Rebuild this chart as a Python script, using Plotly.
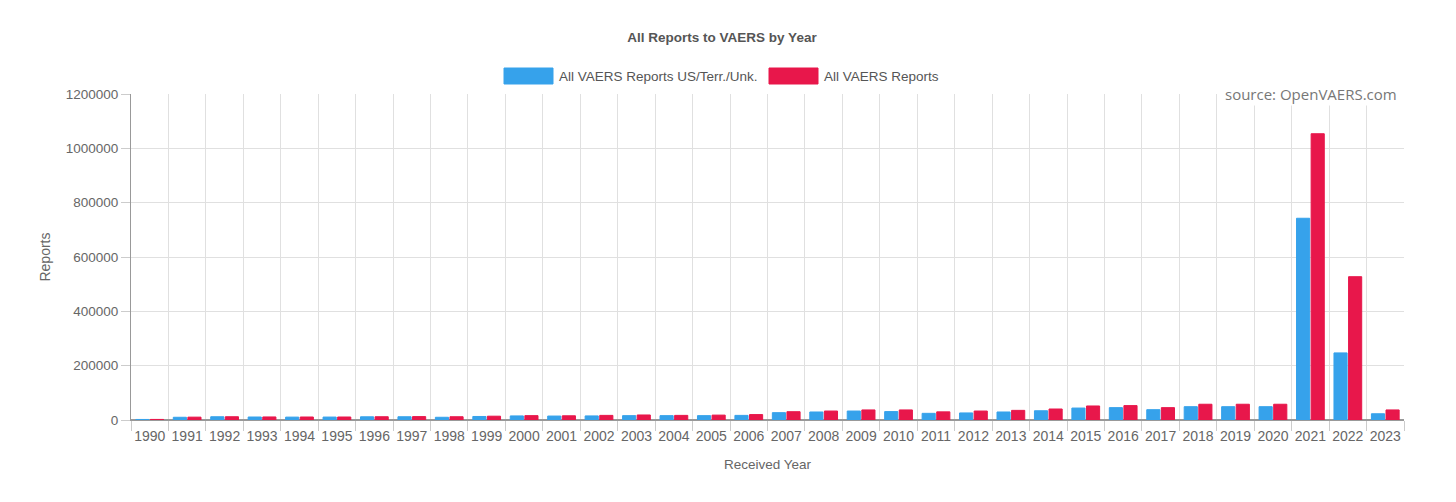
import plotly.graph_objects as go

years = [str(y) for y in range(1990, 2024)]
us_reports = [2000, 10000, 12000, 11000, 10600, 10800, 11800, 12000, 10000, 13000,
              15000, 14500, 15000, 16000, 16000, 16000, 17000, 27000, 29500, 33000,
              31000, 24500, 26000, 29500, 34000, 44000, 45500, 38000, 49000, 49000,
              49000, 742600, 247000, 23000]
all_reports = [2100, 10500, 12000, 11200, 11000, 11000, 12000, 12500, 12000, 14000,
               16000, 15500, 17000, 18500, 17000, 18000, 20000, 30500, 33000, 37000,
               37000, 30000, 33000, 35500, 40500, 51600, 53000, 45500, 58000, 58000,
               58000, 1053700, 527500, 37000]
series_names = ["All VAERS Reports US/Terr./Unk.", "All VAERS Reports"]
colors = ["#36A2EB", "#E8174B"]

OFF = 8  # page body margin
W, H = 1456 - 2 * OFF, 502 - 2 * OFF
# plot area in page pixels: x 131..1404, y 94..420
L, R, T, B = 131 - OFF, W - (1404 - OFF), 94 - OFF, H - (420 - OFF)
PW = W - L - R
PH = H - T - B

FONT = "Liberation Sans, Arial, sans-serif"

fig = go.Figure()
for name, vals, c in zip(series_names, [us_reports, all_reports], colors):
    fig.add_trace(go.Bar(x=years, y=vals, name=name, marker=dict(color=c, line=dict(color=c, width=1)),
                         showlegend=False))

def px_x(p):
    return (p - OFF - L) / PW

def px_y(p):
    return 1 - (p - OFF - T) / PH

shapes = []
annotations = []
leg = [(504, 553, series_names[0], colors[0]), (769, 818, series_names[1], colors[1])]
for x0, x1, name, c in leg:
    shapes.append(dict(type="rect", xref="paper", yref="paper",
                       x0=px_x(x0), x1=px_x(x1), y0=px_y(84), y1=px_y(68),
                       fillcolor=c, line=dict(color=c, width=1)))
    annotations.append(dict(xref="paper", yref="paper", x=px_x(x1 + 4), y=px_y(76),
                            xanchor="left", yanchor="middle", text=name, showarrow=False,
                            font=dict(family=FONT, size=13.5, color="#555")))

annotations.append(dict(xref="paper", yref="paper", x=1, xshift=-5, y=1, yanchor="middle",
                        xanchor="right", text="source: OpenVAERS.com", showarrow=False,
                        bgcolor="white", borderpad=1,
                        font=dict(family="Open Sans, sans-serif", size=15, color="#777")))

fig.update_layout(
    width=W, height=H,
    margin=dict(l=L, r=R, t=T, b=B, autoexpand=False),
    paper_bgcolor="white", plot_bgcolor="white",
    barmode="group", bargap=0.22, bargroupgap=0.1,
    title=dict(text="<b>All Reports to VAERS by Year</b>", x=(722 - OFF) / W, xanchor="center",
               y=1 - (37 - OFF) / H, yanchor="middle", font=dict(family=FONT, size=13.5, color="#555")),
    font=dict(family=FONT, size=13, color="#666"),
    shapes=shapes, annotations=annotations,
    xaxis=dict(type="category", tickson="boundaries", showgrid=True, gridcolor="#e0e0e0",
               ticks="outside", ticklen=10, tickcolor="#ccc", showline=True, linecolor="#999",
               tickangle=0, ticklabelstandoff=3,
               title=dict(text="Received Year", font=dict(size=13.5, color="#666"), standoff=16),
               tickfont=dict(size=14, color="#666")),
    yaxis=dict(range=[0, 1200000], dtick=200000, tickformat="d", showgrid=True,
               gridcolor="#e0e0e0", ticks="outside", ticklen=9, tickcolor="#ccc",
               showline=True, linecolor="#999", zeroline=True, zerolinecolor="#999",
               title=dict(text="Reports", font=dict(size=14, color="#666"), standoff=11),
               tickfont=dict(size=13.5, color="#666")),
)

fig.write_html("out.html")
